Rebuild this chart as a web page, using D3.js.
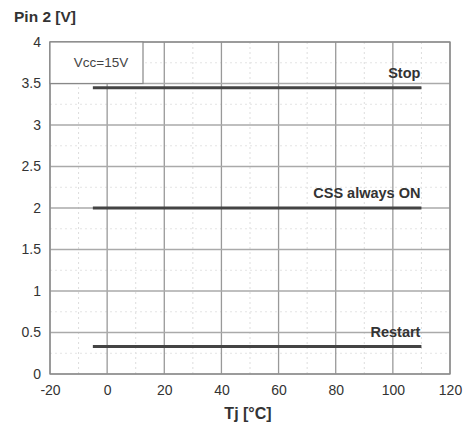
<!DOCTYPE html>
<html><head><meta charset="utf-8">
<script src="https://cdn.jsdelivr.net/npm/d3@7"></script>
<style>body{margin:0;background:#fff}svg{display:block}text{font-family:"Liberation Sans",Arial,sans-serif}</style>
</head><body><svg id="c" width="467" height="429"></svg>
<script>
const seriesNames = ["Stop", "CSS always ON", "Restart"];
const seriesValues = [3.45, 2.0, 0.33];
const tempRange = [-5, 110];
const xTicks = [-20, 0, 20, 40, 60, 80, 100, 120];
const xTickLabels = ["-20", "0", "20", "40", "60", "80", "100", "120"];
const yTicks = [0, 0.5, 1, 1.5, 2, 2.5, 3, 3.5, 4];
const yTickLabels = ["0", "0.5", "1", "1.5", "2", "2.5", "3", "3.5", "4"];

const svg = d3.select("#c");
const x = d3.scaleLinear().domain([-20, 120]).range([50, 450]);
const y = d3.scaleLinear().domain([0, 4]).range([374, 42]);
const FF = "Liberation Sans, Arial, sans-serif";

// minor grid
const g = svg.append("g");
d3.range(-10, 120, 20).forEach(v => g.append("line").attr("x1", x(v)).attr("x2", x(v)).attr("y1", y(0)).attr("y2", y(4)).attr("stroke", "#ddd").attr("stroke-dasharray", "2,3"));
d3.range(0.25, 4, 0.5).forEach(v => g.append("line").attr("x1", x(-20)).attr("x2", x(120)).attr("y1", y(v)).attr("y2", y(v)).attr("stroke", "#e4e4e4").attr("stroke-dasharray", "2,3"));
// major grid
xTicks.forEach(v => g.append("line").attr("x1", x(v)).attr("x2", x(v)).attr("y1", y(0)).attr("y2", y(4)).attr("stroke", "#999").attr("stroke-width", 1.3));
yTicks.forEach(v => g.append("line").attr("x1", x(-20)).attr("x2", x(120)).attr("y1", y(v)).attr("y2", y(v)).attr("stroke", "#aaa").attr("stroke-width", 1.3));
// frame
g.append("rect").attr("x", x(-20)).attr("y", y(4)).attr("width", x(120) - x(-20)).attr("height", y(0) - y(4)).attr("fill", "none").attr("stroke", "#888").attr("stroke-width", 1.3);

// axes labels
const xa = svg.append("g").attr("transform", `translate(0,${y(0)})`)
  .call(d3.axisBottom(x).tickValues(xTicks).tickFormat((d, i) => xTickLabels[i]).tickSize(0).tickPadding(11));
xa.select(".domain").remove();
xa.selectAll("text").attr("font-size", 14).attr("fill", "#333").style("font-family", FF);
const ya = svg.append("g").attr("transform", `translate(${x(-20)},0)`)
  .call(d3.axisLeft(y).tickValues(yTicks).tickFormat((d, i) => yTickLabels[i]).tickSize(0).tickPadding(9));
ya.select(".domain").remove();
ya.selectAll("text").attr("font-size", 14).attr("fill", "#333").style("font-family", FF);

// Vcc box
svg.append("rect").attr("x", x(-20)).attr("y", y(4)).attr("width", 93).attr("height", y(3.5) - y(4)).attr("fill", "#fff").attr("stroke", "#888").attr("stroke-width", 1.2);
svg.append("text").attr("x", 101).attr("y", 67).attr("text-anchor", "middle").attr("font-size", 13.5).attr("fill", "#444").text("Vcc=15V");

// series lines
seriesValues.forEach((v, i) => {
  svg.append("line").attr("x1", x(tempRange[0])).attr("x2", x(tempRange[1])).attr("y1", y(v)).attr("y2", y(v)).attr("stroke", "#444").attr("stroke-width", 3);
  svg.append("text").attr("x", x(tempRange[1]) - 1).attr("y", y(v) - 10).attr("text-anchor", "end").attr("font-size", 14.5).attr("font-weight", "bold").attr("fill", "#333").text(seriesNames[i]);
});

// titles
svg.append("text").attr("x", 14).attr("y", 22).attr("font-size", 15.5).attr("font-weight", "bold").attr("fill", "#333").text("Pin 2 [V]");
svg.append("text").attr("x", 248).attr("y", 419).attr("text-anchor", "middle").attr("font-size", 16).attr("font-weight", "bold").attr("fill", "#333").text("Tj [°C]");
</script></body></html>
